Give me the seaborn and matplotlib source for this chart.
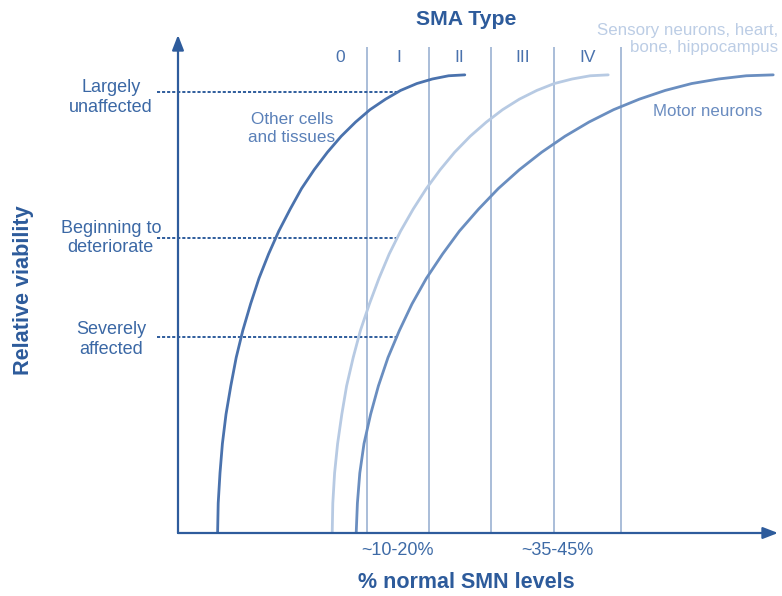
import matplotlib
matplotlib.use("Agg")
import matplotlib.pyplot as plt
import seaborn as sns
import pandas as pd

# ---------------- data ----------------
# x: % normal SMN levels (0-100 across the axis), y: relative viability (0-100 plateau)
other_x = [6.6, 6.7, 7.0, 7.4, 8.0, 8.8, 9.7, 10.8, 12.1, 13.5, 15.1, 16.8, 18.7,
           20.6, 22.7, 24.9, 27.2, 29.6, 32.0, 34.6, 37.1, 39.8, 42.4, 45.1, 47.8]
other_y = [0.0, 6.5, 13.1, 19.5, 25.9, 32.1, 38.3, 44.2, 50.0, 55.6, 60.9, 65.9, 70.7,
           75.2, 79.3, 83.1, 86.6, 89.7, 92.4, 94.7, 96.6, 98.1, 99.1, 99.8, 100.0]

sensory_x = [25.7, 25.8, 26.1, 26.6, 27.3, 28.1, 29.2, 30.4, 31.9, 33.5, 35.2, 37.1, 39.2,
             41.4, 43.7, 46.1, 48.7, 51.4, 54.1, 56.9, 59.8, 62.7, 65.7, 68.7, 71.7]
sensory_y = [0.0, 6.5, 13.1, 19.5, 25.9, 32.1, 38.3, 44.2, 50.0, 55.6, 60.9, 65.9, 70.7,
             75.2, 79.3, 83.1, 86.6, 89.7, 92.4, 94.7, 96.6, 98.1, 99.1, 99.8, 100.0]

motor_x = [29.7, 29.9, 30.3, 31.0, 32.1, 33.4, 35.0, 36.9, 39.0, 41.4, 44.1, 46.9, 50.1,
           53.4, 56.9, 60.6, 64.5, 68.5, 72.6, 76.9, 81.2, 85.6, 90.1, 94.7, 99.2]
motor_y = [0.0, 6.5, 13.1, 19.5, 25.9, 32.1, 38.3, 44.2, 50.0, 55.6, 60.9, 65.9, 70.7,
           75.2, 79.3, 83.1, 86.6, 89.7, 92.4, 94.7, 96.6, 98.1, 99.1, 99.8, 100.0]

sma_boundaries = [31.5, 41.8, 52.2, 62.7, 73.8]
sma_types = ["0", "I", "II", "III", "IV"]

level_names = ["Largely\nunaffected", "Beginning to\ndeteriorate", "Severely\naffected"]
level_values = [96.3, 64.4, 42.8]

pct_labels = ["~10-20%", "~35-45%"]

# ---------------- style ----------------
sns.set_theme(style="white")
plt.rcParams["font.family"] = ["Liberation Sans", "DejaVu Sans"]

AXIS = "#2e5c9c"
C_OTHER = "#4a72ad"
C_SENS = "#b7cae3"
C_MOTOR = "#6a8ec0"
C_VLINE = "#a3b7d5"

df = pd.concat([
    pd.DataFrame({"x": other_x, "y": other_y, "group": "other"}),
    pd.DataFrame({"x": sensory_x, "y": sensory_y, "group": "sensory"}),
    pd.DataFrame({"x": motor_x, "y": motor_y, "group": "motor"}),
], ignore_index=True)

fig = plt.figure(figsize=(7.82, 5.96), dpi=100)
ax = fig.add_axes([178 / 782, 63 / 596, 600 / 782, 498 / 596])
ax.set_xlim(0, 100)
ax.set_ylim(0, 108.7)
ax.set_axis_off()

# vertical SMA type boundaries
ax.vlines(sma_boundaries, 0, 106.1, color=C_VLINE, lw=1.3, zorder=1)

# curves
sns.lineplot(data=df, x="x", y="y", hue="group", units="group", estimator=None,
             sort=False, palette={"other": C_OTHER, "sensory": C_SENS, "motor": C_MOTOR},
             linewidth=2.0, legend=False, ax=ax, zorder=3,
             solid_joinstyle="round", solid_capstyle="round")

# dotted level lines
ax.hlines(level_values, -3.5, 36.7, color=AXIS, lw=1.4, linestyles=(0, (1.6, 1.0)),
          clip_on=False, zorder=2)
label_offsets = [-1.2, 0.0, -0.6]
for name, val, off in zip(level_names, level_values, label_offsets):
    ax.text(-11.2, val + off, name, ha="center", va="center", multialignment="center",
            fontsize=13, color="#3b68a5", linespacing=1.2, clip_on=False)

# axes arrows
arrow = dict(arrowstyle="-|>,head_length=0.9,head_width=0.35", lw=1.6, color=AXIS,
             shrinkA=0, shrinkB=0, mutation_scale=10)
ax.annotate("", xy=(0, 108.7), xytext=(0, 0), arrowprops=arrow, annotation_clip=False)
ax.annotate("", xy=(100, 0), xytext=(0, 0), arrowprops=arrow, annotation_clip=False)

# SMA type labels
type_label_x = [27.0, 36.8, 46.8, 57.5, 68.3]
for t, xx in zip(sma_types, type_label_x):
    ax.text(xx, 103.7, t, ha="center", va="center", fontsize=12.5, color=C_OTHER)
ax.text(48, 112.0, "SMA Type", ha="center", va="center", fontsize=15.3, fontweight="bold",
        color="#2d5b9b", clip_on=False)

# curve labels
ax.text(19.0, 88.3, "Other cells\nand tissues", ha="center", va="center",
        multialignment="center", fontsize=12.3, color="#5a80b8", linespacing=1.2)
ax.text(88.3, 92.1, "Motor neurons", ha="center", va="center", fontsize=12.2,
        color="#6a8cc0")
ax.text(100, 107.8, "Sensory neurons, heart,\nbone, hippocampus", ha="right",
        va="center", multialignment="right", fontsize=12.2, color="#bccde5",
        linespacing=1.2, clip_on=False)

# x labels
for lab, xx in zip(pct_labels, [36.5, 63.2]):
    ax.text(xx, -3.9, lab, ha="center", va="center", fontsize=13, color="#3d6aa6",
            clip_on=False)
ax.text(48, -10.7, "% normal SMN levels", ha="center", va="center", fontsize=15.5,
        fontweight="bold", color="#2d5b9b", clip_on=False)
ax.text(-25.7, 53, "Relative viability", ha="center", va="center", rotation=90,
        fontsize=15.6, fontweight="bold", color="#2d5b9b", clip_on=False)

fig.savefig("out.png", dpi=100)
